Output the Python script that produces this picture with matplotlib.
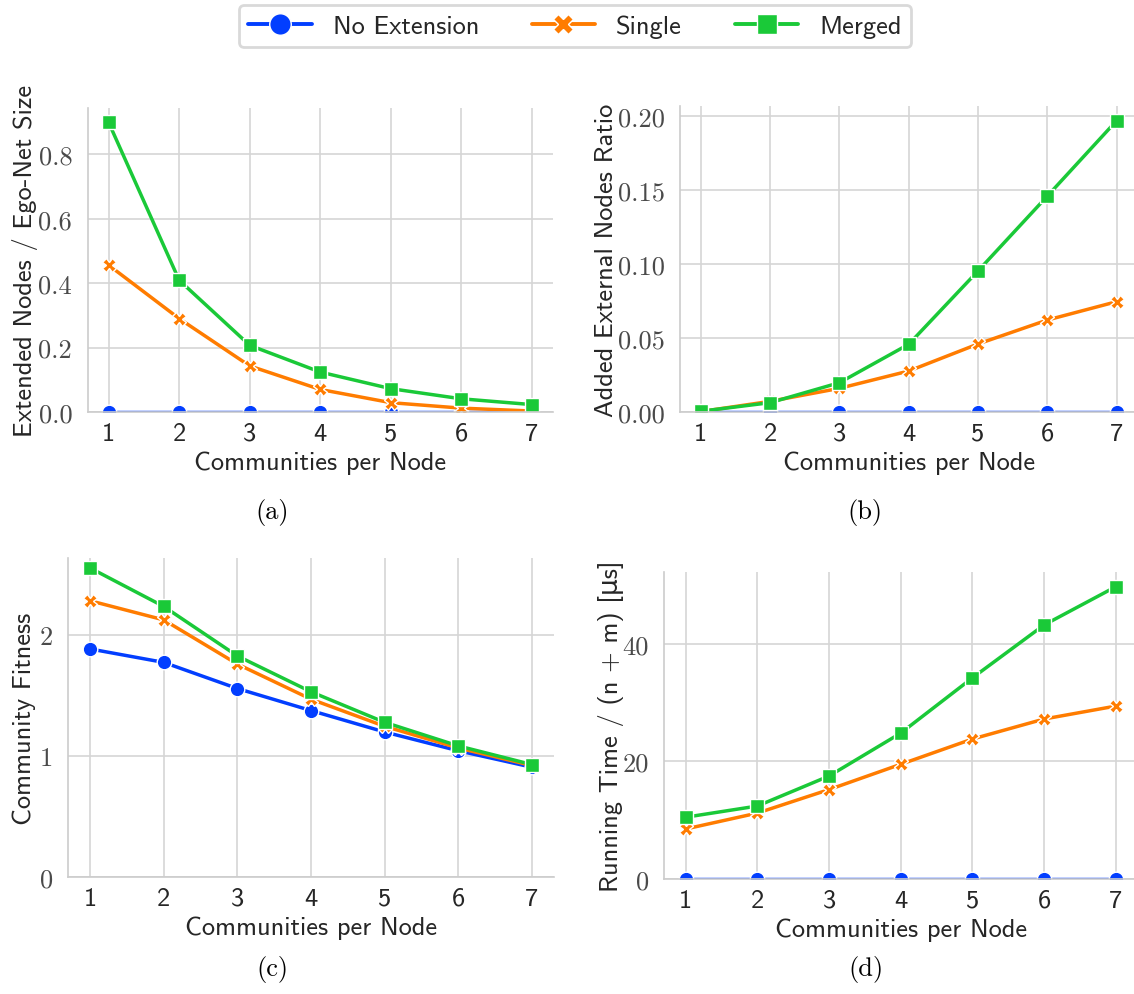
import numpy as np
import matplotlib
matplotlib.use("Agg")
import matplotlib.pyplot as plt
import seaborn as sns
from matplotlib.lines import Line2D

# communities per node on the x axis of every panel
communities = [1, 2, 3, 4, 5, 6, 7]
methods = ["No Extension", "Single", "Merged"]

# (a) extended nodes / ego-net size
ext_none = [0, 0, 0, 0, 0, 0, 0]
ext_single = [0.456, 0.290, 0.143, 0.070, 0.029, 0.012, 0.003]
ext_merged = [0.899, 0.409, 0.207, 0.124, 0.0725, 0.041, 0.023]

# (b) added external nodes ratio
ratio_none = [0, 0, 0, 0, 0, 0, 0]
ratio_single = [0.0003, 0.0072, 0.0160, 0.0277, 0.0460, 0.0622, 0.0746]
ratio_merged = [0.0005, 0.0063, 0.0198, 0.0458, 0.0954, 0.1460, 0.1970]

# (c) community fitness
fit_none = [1.884, 1.773, 1.557, 1.375, 1.198, 1.043, 0.907]
fit_single = [2.282, 2.124, 1.759, 1.469, 1.245, 1.066, 0.921]
fit_merged = [2.553, 2.235, 1.826, 1.530, 1.278, 1.083, 0.929]

# (d) running time / (n + m) in microseconds
time_none = [0, 0, 0, 0, 0, 0, 0]
time_single = [8.5, 11.2, 15.2, 19.5, 23.8, 27.2, 29.4]
time_merged = [10.5, 12.4, 17.5, 24.8, 34.2, 43.2, 49.7]

ylabels = ["Extended Nodes / Ego-Net Size", "Added External Nodes Ratio",
           "Community Fitness", "Running Time / (n + m) [\u03bcs]"]
yticks_a = [0.0, 0.2, 0.4, 0.6, 0.8]
yticks_b = [0.00, 0.05, 0.10, 0.15, 0.20]
yticks_c = [0, 1, 2]
yticks_d = [0, 20, 40]
captions = ["(a)", "(b)", "(c)", "(d)"]

sns.set_theme(style="whitegrid")
pal = sns.color_palette("bright")
colors = [pal[0], pal[1], pal[2]]
markers = ["o", "X", "s"]
msizes = [10.5, 10, 10]

SANS = ["cmss10", "DejaVu Sans"]
SERIF = ["cmr10", "DejaVu Serif"]
FS = 19

W, H = 1134, 995
fig = plt.figure(figsize=(W / 100, H / 100), dpi=100)


def box(l, r, t, b):
    return [l / W, (H - b) / H, (r - l) / W, (b - t) / H]


# axes rect, series, y ticks, tick format, ylabel x (px), caption centre (px)
panels = [
    (box(87.5, 553, 109, 413), [ext_none, ext_single, ext_merged], yticks_a, "%.1f", 38, (272, 512)),
    (box(680, 1137.5, 107, 413), [ratio_none, ratio_single, ratio_merged], yticks_b, "%.2f", 618, (865, 512)),
    (box(68, 554, 559, 878), [fit_none, fit_single, fit_merged], yticks_c, "%d", 36, (272, 970)),
    (box(664, 1137.5, 573, 880), [time_none, time_single, time_merged], yticks_d, "%d", 624, (866, 970)),
]

for i, (rect, series, yt, fmt, label_x, cap) in enumerate(panels):
    ax = fig.add_axes(rect)
    for vals, c, m, ms in zip(series, colors, markers, msizes):
        ax.plot(communities, vals, color=c, lw=2.5, marker=m, ms=ms,
                mec="white", mew=1.0)
    ax.set_xlim(0.7, 7.3)
    ax.set_ylim(bottom=0)
    ax.set_xticks(communities)
    ax.set_xticklabels([str(v) for v in communities], family=SANS, fontsize=FS,
                       color="#262626")
    ax.set_yticks(yt)
    ax.set_yticklabels([fmt % v for v in yt], family=SERIF, fontsize=FS,
                       color="#4a4a4a")
    ax.tick_params(axis="x", length=0, pad=7)
    ax.tick_params(axis="y", length=0, pad=11)
    ax.set_xlabel("Communities per Node", family=SANS, fontsize=FS, color="#262626")
    ax.set_ylabel(ylabels[i], family=SANS, fontsize=FS, color="#262626")
    l = rect[0] * W
    w = rect[2] * W
    ax.yaxis.set_label_coords((label_x - l) / w, 0.5)
    ax.grid(True, color="#d5d5d5", lw=1.2)
    for s in ["top", "right"]:
        ax.spines[s].set_visible(False)
    for s in ["left", "bottom"]:
        ax.spines[s].set_color("#cccccc")
        ax.spines[s].set_linewidth(1.2)
    fig.text(cap[0] / W, 1 - cap[1] / H, captions[i], family=SERIF, fontsize=FS,
             ha="center", va="center", color="black")

handles = [Line2D([], [], color=c, lw=2.8, marker=m, ms=ms + 5, mec="white", mew=1.0)
           for c, m, ms in zip(colors, markers, msizes)]
leg = fig.legend(handles, methods, loc="center", bbox_to_anchor=(575 / W, 1 - 27 / H),
                 ncol=3, frameon=True, prop={"family": SANS, "size": FS},
                 handlelength=2.4, columnspacing=2.0, borderpad=0.35,
                 fancybox=True)
leg.get_frame().set_edgecolor("#d0d0d0")
leg.get_frame().set_linewidth(2)
for t in leg.get_texts():
    t.set_color("#262626")

fig.savefig("out.png", dpi=100)
